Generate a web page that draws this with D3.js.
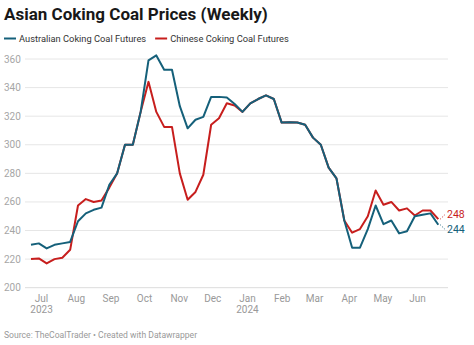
<!DOCTYPE html>
<html>
<head>
<meta charset="utf-8">
<script src="https://cdn.jsdelivr.net/npm/d3@7"></script>
<style>
  body { margin: 0; background: #fff; }
  text { font-family: Roboto, "Noto Sans", sans-serif; }
</style>
</head>
<body>
<div id="chart"></div>
<script>
// weekly dates, Thursday Jun 22 2023 .. Jun 20 2024
const startDate = new Date(2023, 5, 22);
const endDate = new Date(2024, 5, 21);
const weeks = d3.timeDay.range(startDate, endDate, 7);

const australian = [
  230, 231, 227.5, 230, 231, 232, 246.5, 252, 254.5, 256,
  272, 280, 300, 300, 323, 359, 362.5, 352.5, 352.5, 327,
  311.5, 317.5, 319.5, 333.5, 333.5, 333, 328.5, 323, 329, 332,
  334.5, 332, 315.5, 315.8, 315.6, 314, 305, 300, 284, 276.5,
  247, 228, 228, 241, 257.5, 244.5, 247, 238, 239.5, 250,
  251, 252, 244
];
const chinese = [
  220, 220.5, 217, 220, 221, 226.5, 257.5, 262, 260, 261,
  270, 280, 300, 300, 323, 344, 323, 312.5, 312.5, 280,
  261.5, 267, 279, 314, 318.5, 329, 327.5, 323, 329, 332,
  334.5, 332, 315.5, 315.8, 315.6, 314, 305, 300, 284, 276.5,
  247, 238.5, 241, 250, 268, 258, 260, 254, 255.5, 250.5,
  254, 254, 248
];
const seriesNames = ["Australian Coking Coal Futures", "Chinese Coking Coal Futures"];
const seriesColors = ["#15607a", "#c71e1d"];
const endLabels = ["244", "248"];
const yTicks = [200, 220, 240, 260, 280, 300, 320, 340, 360];

const W = 474, H = 345;
const svg = d3.select("#chart").append("svg")
    .attr("width", W)
    .attr("height", H);

svg.append("text")
    .attr("x", 4)
    .attr("y", 20)
    .style("font-size", "17px")
    .style("font-weight", "700")
    .attr("fill", "#181818")
    .text("Asian Coking Coal Prices (Weekly)");

// legend
let lx = 4;
seriesNames.forEach((name, i) => {
    svg.append("line")
        .attr("x1", lx).attr("x2", lx + 12)
        .attr("y1", 38.5).attr("y2", 38.5)
        .attr("stroke", seriesColors[i])
        .attr("stroke-width", 2);
    const t = svg.append("text")
        .attr("x", lx + 15)
        .attr("y", 42)
        .style("font-size", "9.3px")
        .attr("fill", "#333")
        .text(name);
    lx += 15 + t.node().getComputedTextLength() + 9;
});

const x = d3.scaleTime()
    .domain([weeks[0], weeks[weeks.length - 1]])
    .range([31, 438.3]);

const y = d3.scaleLinear()
    .domain([200, 360])
    .range([287.7, 59]);

// gridlines + y labels
const grid = svg.append("g");
yTicks.forEach(v => {
    grid.append("line")
        .attr("x1", 25).attr("x2", 448)
        .attr("y1", y(v)).attr("y2", y(v))
        .attr("stroke", v === 200 ? "#dcdcdc" : "#e6e6e6")
        .attr("stroke-width", 1);
    grid.append("text")
        .attr("x", 4)
        .attr("y", y(v))
        .attr("dy", "0.35em")
        .style("font-size", "10px")
        .attr("fill", "#a6a6a6")
        .text(v);
});

// x axis
const xAxis = d3.axisBottom(x)
    .ticks(d3.timeMonth.every(1))
    .tickSize(0)
    .tickFormat(d3.timeFormat("%b"));
const gx = svg.append("g")
    .attr("transform", "translate(0,0)")
    .call(xAxis);
gx.select(".domain").remove();
gx.selectAll("text")
    .attr("y", 302)
    .attr("dy", null)
    .style("font-size", "10px")
    .style("font-family", "Roboto, sans-serif")
    .attr("fill", "#999");
gx.selectAll(".tick").each(function (d) {
    if (d.getMonth() === 6 || d.getMonth() === 0) {
        d3.select(this).append("text")
            .attr("y", 313)
            .attr("text-anchor", "middle")
            .style("font-size", "10px")
            .style("font-family", "Roboto, sans-serif")
            .attr("fill", "#999")
            .text(d.getFullYear());
    }
});

// lines (teal drawn last so it sits on top)
const line = d3.line()
    .x((d, i) => x(weeks[i]))
    .y(d => y(d));

[chinese, australian].forEach((vals, k) => {
    const i = 1 - k;
    svg.append("path")
        .datum(vals)
        .attr("fill", "none")
        .attr("stroke", seriesColors[i])
        .attr("stroke-width", 2)
        .attr("stroke-linejoin", "round")
        .attr("d", line);
});

// end labels, pushed apart so they don't collide
const last = weeks.length - 1;
const ends = [australian[last], chinese[last]].map(v => y(v));
const mid = (ends[0] + ends[1]) / 2;
const labelY = [mid + 7.4, mid - 7.4];
[0, 1].forEach(i => {
    svg.append("line")
        .attr("x1", x(weeks[last]) + 2).attr("y1", ends[i])
        .attr("x2", 445).attr("y2", labelY[i])
        .attr("stroke", seriesColors[i])
        .attr("stroke-width", 1)
        .attr("stroke-dasharray", "1,1.5");
    svg.append("text")
        .attr("x", 447)
        .attr("y", labelY[i])
        .attr("dy", "0.35em")
        .style("font-size", "10.5px")
        .attr("fill", seriesColors[i])
        .text(endLabels[i]);
});

svg.append("text")
    .attr("x", 4)
    .attr("y", 338)
    .style("font-size", "8.6px")
    .attr("fill", "#999")
    .text("Source: TheCoalTrader \u2022 Created with Datawrapper");
</script>
</body>
</html>
